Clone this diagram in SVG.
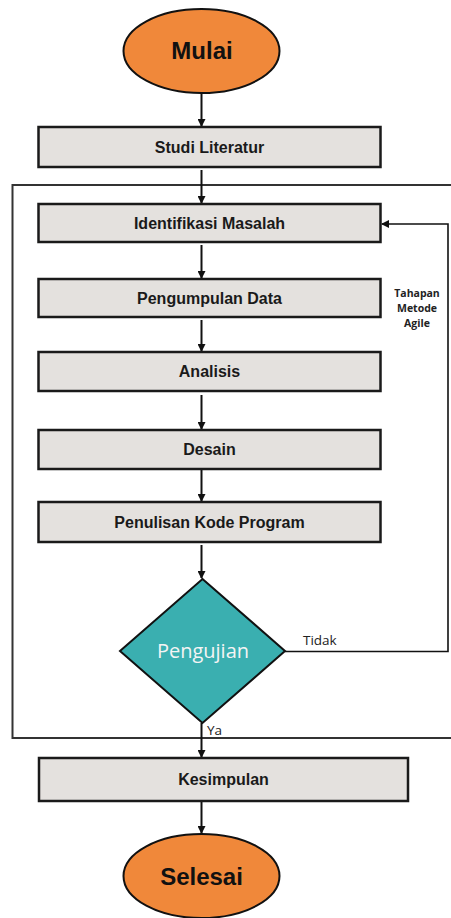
<svg xmlns="http://www.w3.org/2000/svg" width="451" height="918" viewBox="0 0 451 918">
<style>
.term{fill:#F0883A;stroke:#111;stroke-width:2}
.box{fill:#E4E1DE;stroke:#1a1a1a;stroke-width:2.5}
.lbl{font-family:"Liberation Sans",Arial,sans-serif;font-weight:bold;font-size:16px;fill:#1a1a1a;text-anchor:middle}
.big{font-family:"Liberation Sans",Arial,sans-serif;font-weight:bold;font-size:24px;fill:#111;text-anchor:middle}
.conn{fill:none;stroke:#111;stroke-width:2}
.thin{fill:none;stroke:#111;stroke-width:1.6}
.frame{fill:none;stroke:#333;stroke-width:2}
.note{font-family:"Open Sans","Noto Sans",sans-serif;font-weight:bold;font-size:10.5px;fill:#222;text-anchor:middle}
.small{font-family:"Open Sans","Noto Sans",sans-serif;font-size:13.5px;fill:#222}
</style>
<defs>
<marker id="ah" markerWidth="8" markerHeight="8" refX="7" refY="4" orient="auto" markerUnits="userSpaceOnUse">
<path d="M0,0 L8,4 L0,8 Z" fill="#111"/>
</marker>
</defs>
<g id="frame">
<path class="frame" d="M460 185 H12.5 V738 H460"/>
<text class="note" x="417" y="297">Tahapan</text>
<text class="note" x="417" y="312">Metode</text>
<text class="note" x="417" y="327">Agile</text>
</g>
<g id="connectors">
<path class="conn" d="M201.5 93 V126" marker-end="url(#ah)"/>
<path class="conn" d="M201.5 170 V203" marker-end="url(#ah)"/>
<path class="conn" d="M201.5 245 V278" marker-end="url(#ah)"/>
<path class="conn" d="M201.5 320 V351" marker-end="url(#ah)"/>
<path class="conn" d="M201.5 395 V429" marker-end="url(#ah)"/>
<path class="conn" d="M201.5 469 V501" marker-end="url(#ah)"/>
<path class="conn" d="M201.5 545 V578" marker-end="url(#ah)"/>
<path class="conn" d="M201.5 723 V757" marker-end="url(#ah)"/>
<path class="conn" d="M201.5 801 V833" marker-end="url(#ah)"/>
<path class="thin" d="M285 651.5 H448 V224 H382" marker-end="url(#ah)"/>
<text class="small" x="303" y="645">Tidak</text>
<text class="small" x="207" y="735">Ya</text>
</g>
<g id="mulai">
<ellipse class="term" cx="201.5" cy="51" rx="78" ry="42"/>
<text class="big" x="202" y="59">Mulai</text>
</g>
<g id="studi">
<rect class="box" x="38.5" y="127" width="342" height="40"/>
<text class="lbl" x="209.5" y="153">Studi Literatur</text>
</g>
<g id="identifikasi">
<rect class="box" x="38.5" y="204" width="342" height="38"/>
<text class="lbl" x="209.5" y="229">Identifikasi Masalah</text>
</g>
<g id="pengumpulan">
<rect class="box" x="38.5" y="279" width="342" height="38"/>
<text class="lbl" x="209.5" y="304">Pengumpulan Data</text>
</g>
<g id="analisis">
<rect class="box" x="38.5" y="352" width="342" height="39"/>
<text class="lbl" x="209.5" y="377">Analisis</text>
</g>
<g id="desain">
<rect class="box" x="38.5" y="430" width="342" height="39"/>
<text class="lbl" x="209.5" y="455">Desain</text>
</g>
<g id="penulisan">
<rect class="box" x="38.5" y="502" width="342" height="40"/>
<text class="lbl" x="209.5" y="528">Penulisan Kode Program</text>
</g>
<g id="pengujian">
<path d="M202.5 579 L285 651 L202.5 723 L120 651 Z" fill="#3AAFB0" stroke="#111" stroke-width="2"/>
<text x="203" y="658" font-family="'Open Sans','Noto Sans',sans-serif" font-size="20" fill="#F4F4F4" text-anchor="middle">Pengujian</text>
</g>
<g id="kesimpulan">
<rect class="box" x="39" y="758" width="369" height="43"/>
<text class="lbl" x="223.5" y="785">Kesimpulan</text>
</g>
<g id="selesai">
<ellipse class="term" cx="201.5" cy="876" rx="78" ry="42"/>
<text class="big" x="201.5" y="885">Selesai</text>
</g>
</svg>
